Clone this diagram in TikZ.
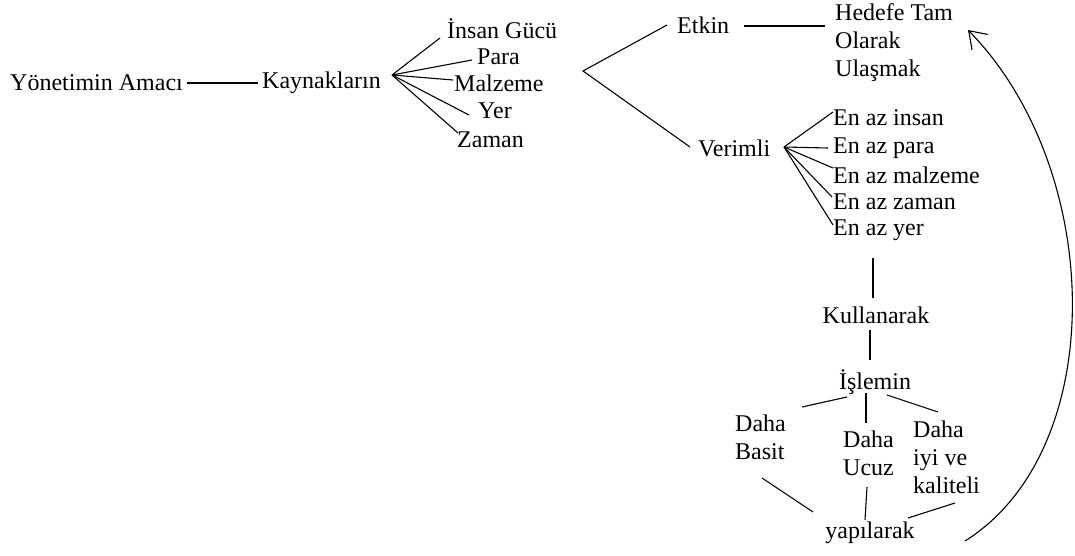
\documentclass[tikz,border=0pt]{standalone}
\usepackage{fontspec}
\setmainfont{Liberation Serif}
\usetikzlibrary{arrows.meta}
\begin{document}
\begin{tikzpicture}[x=1pt,y=-1pt,
  lbl/.style={inner sep=0pt, anchor=west, font=\fontsize{24}{28}\selectfont, align=left},
  link/.style={line width=1.1pt, black}]
\useasboundingbox[fill=white] (0,0) rectangle (1075,556);

% --- text nodes ---
\node[lbl] (amac)  at (10,83)  {Yönetimin Amacı};
\node[lbl] (kay)   at (262,83) {Kaynakların};
\node[lbl] (insan) at (447,29) {İnsan Gücü};
\node[lbl] (para)  at (477,57) {Para};
\node[lbl] (malz)  at (454,83) {Malzeme};
\node[lbl] (yer)   at (478,111) {Yer};
\node[lbl] (zaman) at (457,140) {Zaman};
\node[lbl] (etkin) at (677,25) {Etkin};
\node[lbl] (hedef) at (835,43) {Hedefe Tam\\Olarak\\Ulaşmak};
\node[lbl] (verim) at (698,148) {Verimli};
\node[lbl] (e1) at (833,118) {En az insan};
\node[lbl] (e2) at (833,148) {En az para};
\node[lbl] (e3) at (833,175) {En az malzeme};
\node[lbl] (e4) at (833,202) {En az zaman};
\node[lbl] (e5) at (833,230) {En az yer};
\node[lbl, anchor=center] (kull)  at (876,315) {Kullanarak};
\node[lbl, anchor=center] (islem) at (875,382) {İşlemin};
\node[lbl] (basit)  at (735,437) {Daha\\Basit};
\node[lbl] (ucuz)   at (843,453) {Daha\\Ucuz};
\node[lbl] (kalite) at (913,457) {Daha\\iyi ve\\kaliteli};
\node[lbl, anchor=center] (yapi) at (870,533) {yapılarak};

% --- junctions and free line ends ---
\coordinate (kj) at (392,75);
\coordinate (kInsan) at (440,38);
\coordinate (kPara)  at (472,60);
\coordinate (kMalz)  at (453,80);
\coordinate (kYer)   at (469,115);
\coordinate (kZaman) at (458,133);
\coordinate (sj) at (583,71);
\coordinate (sEtkin) at (667,25);
\coordinate (sVerim) at (690,147);
\coordinate (vj) at (784,147);
\coordinate (v1) at (833,112);
\coordinate (v2) at (828,148);
\coordinate (v3) at (833,168);
\coordinate (v4) at (832,197);
\coordinate (v5) at (833,225);
\coordinate (eBot) at (873,258);
\coordinate (kTop) at (873,298);
\coordinate (kBot) at (870,330);
\coordinate (iTop) at (870,360);
\coordinate (iL1) at (847,397);
\coordinate (iL2) at (802,407);
\coordinate (iM1) at (866,393);
\coordinate (iM2) at (866,423);
\coordinate (iR1) at (887,395);
\coordinate (iR2) at (938,412);
\coordinate (yL1) at (762,478);
\coordinate (yL2) at (813,512);
\coordinate (yM1) at (867,487);
\coordinate (yM2) at (865,520);
\coordinate (yR1) at (955,503);
\coordinate (yR2) at (908,518);
\coordinate (cStart) at (965,541);
\coordinate (cEnd) at (968,30);

% --- connectors ---
\draw[link, shorten <=4pt, shorten >=4pt] (amac.east) -- (kay.west);
\foreach \e in {kInsan,kPara,kMalz,kYer,kZaman} \draw[link] (kj) -- (\e);
\draw[link] (sEtkin) -- (sj) -- (sVerim);
\draw[link, shorten <=15pt, shorten >=10pt] ([yshift=-1pt]etkin.east) -- ([yshift=-1pt]etkin.east -| hedef.west);
\foreach \e in {v1,v2,v3,v4,v5} \draw[link] (vj) -- (\e);
\draw[link] (eBot) -- (kTop);
\draw[link] (kBot) -- (iTop);
\draw[link] (iL1) -- (iL2);
\draw[link] (iM1) -- (iM2);
\draw[link] (iR1) -- (iR2);
\draw[link] (yL1) -- (yL2);
\draw[link] (yM1) -- (yM2);
\draw[link] (yR1) -- (yR2);
\draw[link, -{Straight Barb[length=16pt,width=22pt]}]
  (cStart) .. controls (1110,450) and (1105,170) .. (cEnd);
\end{tikzpicture}
\end{document}
